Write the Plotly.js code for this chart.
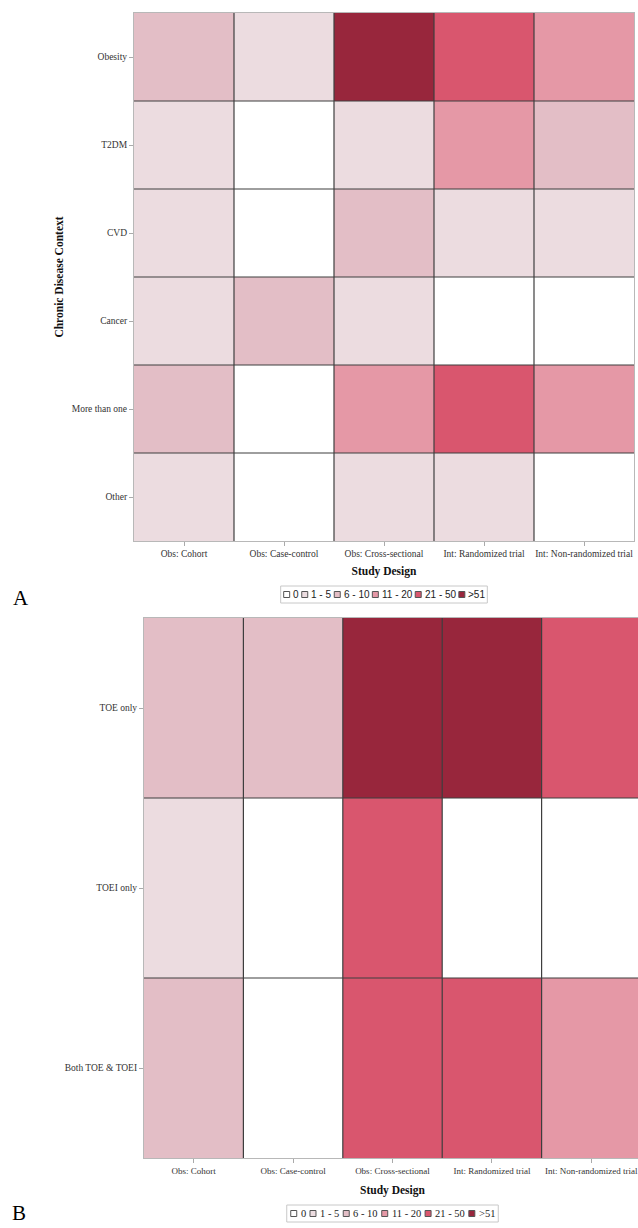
<!DOCTYPE html>
<html><head><meta charset="utf-8">
<script src="https://cdn.plot.ly/plotly-3.0.1.min.js"></script>
<style>html,body{margin:0;padding:0;overflow:hidden;background:#fff}#chart{width:645px;height:1228px}</style>
</head><body><div id="chart"></div>
<script>
// ---------- data ----------
const studyDesigns = ["Obs: Cohort","Obs: Case-control","Obs: Cross-sectional","Int: Randomized trial","Int: Non-randomized trial"];
const diseaseContexts = ["Obesity","T2DM","CVD","Cancer","More than one","Other"];
const exposureTypes = ["TOE only","TOEI only","Both TOE & TOEI"];
const countBins = ["0","1 - 5","6 - 10","11 - 20","21 - 50",">51"];
const binColors = ["#ffffff","#ecdce0","#e3bec6","#e598a6","#d9566e","#98263c"];
// panel A: number of studies (binned) per disease context x study design
const binsA = [
  ["6 - 10","1 - 5",">51","21 - 50","11 - 20"],
  ["1 - 5","0","1 - 5","11 - 20","6 - 10"],
  ["1 - 5","0","6 - 10","1 - 5","1 - 5"],
  ["1 - 5","6 - 10","1 - 5","0","0"],
  ["6 - 10","0","11 - 20","21 - 50","11 - 20"],
  ["1 - 5","0","1 - 5","1 - 5","0"]
];
// panel B: number of studies (binned) per exposure type x study design
const binsB = [
  ["6 - 10","6 - 10",">51",">51","21 - 50"],
  ["1 - 5","0","21 - 50","0","0"],
  ["6 - 10","0","21 - 50","21 - 50","11 - 20"]
];

// ---------- helpers ----------
const W = 645, H = 1228;
const px = x => x / W, py = y => 1 - y / H;
const binIndex = s => countBins.indexOf(s);
const colorscale = [];
binColors.forEach((c, i) => { colorscale.push([i / 6, c]); colorscale.push([(i + 1) / 6, c]); });
const serif = "Liberation Serif";
const sans = "Liberation Sans";

function heat(xa, ya, rows, bins) {
  return {
    type: "heatmap", xaxis: xa, yaxis: ya,
    x: studyDesigns, y: rows,
    z: bins.map(r => r.map(binIndex)),
    zmin: -0.5, zmax: 5.5, colorscale: colorscale, showscale: false,
    hoverinfo: "x+y"
  };
}

const shapes = [], annotations = [];
function gridLines(xa, ya, nx, ny) {
  for (let i = 1; i < nx; i++) shapes.push({type: "line", xref: xa, yref: ya, x0: i - 0.5, x1: i - 0.5, y0: -0.5, y1: ny - 0.5, line: {color: "#3e3e3e", width: 1.2}});
  for (let j = 1; j < ny; j++) shapes.push({type: "line", xref: xa, yref: ya, y0: j - 0.5, y1: j - 0.5, x0: -0.5, x1: nx - 0.5, line: {color: "#3e3e3e", width: 1.2}});
}
gridLines("x", "y", studyDesigns.length, diseaseContexts.length);
gridLines("x2", "y2", studyDesigns.length, exposureTypes.length);

const cv = document.createElement("canvas").getContext("2d");
function legendBox(cx, top, size, family, sq, gap, itemGap, pad) {
  cv.font = size + "px '" + family + "'";
  const h = 17;
  const widths = countBins.map(t => cv.measureText(t).width);
  let total = pad * 2 + widths.reduce((a, b) => a + b, 0) + countBins.length * (sq + gap) + (countBins.length - 1) * itemGap;
  let x = cx - total / 2;
  const mid = top + h / 2;
  shapes.push({type: "rect", xref: "paper", yref: "paper", x0: px(x), x1: px(x + total), y0: py(top), y1: py(top + h), line: {color: "#c8c8c8", width: 1}, fillcolor: "rgba(0,0,0,0)"});
  x += pad;
  countBins.forEach((t, i) => {
    shapes.push({type: "rect", xref: "paper", yref: "paper", x0: px(x), x1: px(x + sq), y0: py(mid - sq / 2), y1: py(mid + sq / 2), line: {color: "#555", width: 1}, fillcolor: binColors[i]});
    x += sq + gap;
    annotations.push({xref: "paper", yref: "paper", x: px(x - 1), y: py(mid), xanchor: "left", yanchor: "middle", showarrow: false, text: t.replace(">", "&gt;"), font: {family: family, size: size, color: "#222"}});
    x += widths[i] + itemGap;
  });
}
legendBox(384, 586, 10, sans, 6, 2.5, 4, 3);
legendBox(392.5, 1205, 10.5, serif, 6, 3, 5, 4);

annotations.push({xref: "paper", yref: "paper", x: px(11), y: py(598), xanchor: "left", yanchor: "middle", showarrow: false, text: "A", font: {family: serif, size: 21, color: "#000"}});
annotations.push({xref: "paper", yref: "paper", x: px(10), y: py(1213), xanchor: "left", yanchor: "middle", showarrow: false, text: "B", font: {family: serif, size: 21, color: "#000"}});

const tickFont = {family: serif, size: 9.5, color: "#333"};
const titleFont = {family: serif, size: 11.5, color: "#111", weight: "bold"};
const axCommon = {
  type: "category", showgrid: false, zeroline: false, showline: true, mirror: true,
  linecolor: "#b8b8b8", linewidth: 1, ticks: "outside", ticklen: 4, tickcolor: "#aaa",
  tickfont: tickFont, fixedrange: true
};

const layout = {
  width: W, height: H, margin: {l: 0, r: 0, t: 0, b: 0},
  paper_bgcolor: "#fff", plot_bgcolor: "#fff", showlegend: false,
  font: {family: serif},
  xaxis: Object.assign({}, axCommon, {domain: [px(134), px(634)], anchor: "y", range: [-0.5, studyDesigns.length - 0.5],
    title: {text: "Study Design", font: titleFont, standoff: 8}}),
  yaxis: Object.assign({}, axCommon, {domain: [py(541), py(13)], anchor: "x", range: [diseaseContexts.length - 0.5, -0.5],
    title: {text: "Chronic Disease Context", font: titleFont, standoff: 5}}),
  xaxis2: Object.assign({}, axCommon, {domain: [px(144), px(641)], anchor: "y2", range: [-0.5, studyDesigns.length - 0.5],
    tickfont: {family: serif, size: 9, color: "#333"},
    title: {text: "Study Design", font: titleFont, standoff: 11}}),
  yaxis2: Object.assign({}, axCommon, {domain: [py(1158), py(618)], anchor: "x2", range: [exposureTypes.length - 0.5, -0.5]}),
  shapes: shapes, annotations: annotations
};

Plotly.newPlot("chart", [heat("x", "y", diseaseContexts, binsA), heat("x2", "y2", exposureTypes, binsB)], layout, {displayModeBar: false, staticPlot: true});
</script>
</body></html>
